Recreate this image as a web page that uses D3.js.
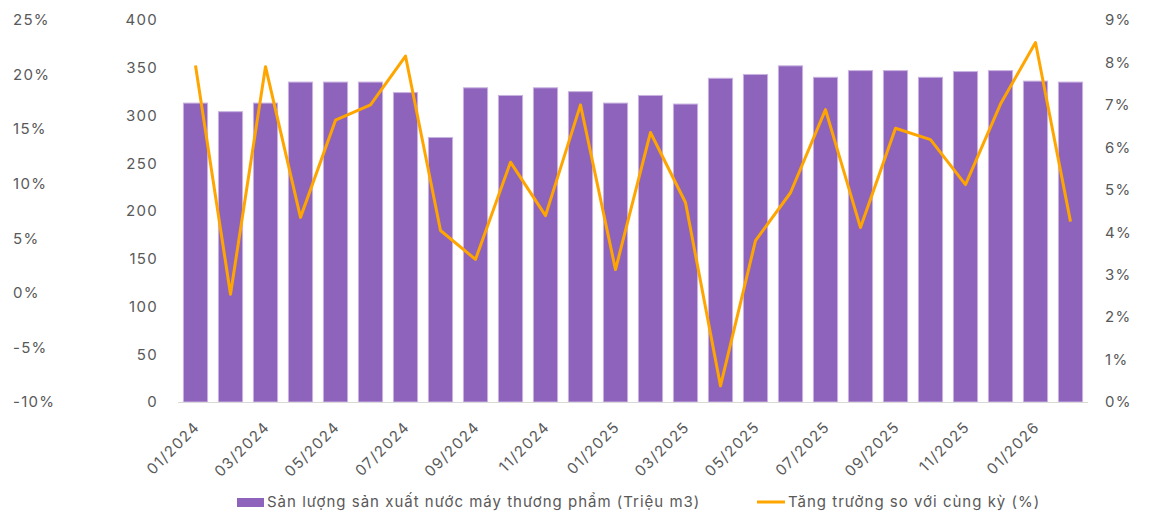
<!DOCTYPE html>
<html>
<head>
<meta charset="utf-8">
<script src="https://cdn.jsdelivr.net/npm/d3@7"></script>
<style>
  body { margin: 0; background: #fff; }
  text { font-family: "Inter", "Noto Sans", sans-serif; fill: #595959; }
</style>
</head>
<body>
<div id="chart"></div>
<script>
// months shown on the x axis
var months = ["01/2024","02/2024","03/2024","04/2024","05/2024","06/2024","07/2024","08/2024","09/2024","10/2024","11/2024","12/2024",
  "01/2025","02/2025","03/2025","04/2025","05/2025","06/2025","07/2025","08/2025","09/2025","10/2025","11/2025","12/2025",
  "01/2026","02/2026"];

// production (million m3)
var production = [313, 304, 313, 335, 335, 335, 324, 277, 329, 321, 329, 325,
  313, 321, 312, 339, 343, 352, 340, 347, 347, 340, 346, 347, 336, 335];

// yoy growth (%)
var growth = [7.93, 2.54, 7.9, 4.35, 6.64, 7.0, 8.15, 4.04, 3.36, 5.65, 4.39, 7.0,
  3.12, 6.35, 4.7, 0.38, 3.8, 4.93, 6.89, 4.11, 6.45, 6.18, 5.12, 7.02, 8.47, 4.25];

var leftTicks = [0, 50, 100, 150, 200, 250, 300, 350, 400];
var farLeftTicks = [-10, -5, 0, 5, 10, 15, 20, 25];
var rightTicks = [0, 1, 2, 3, 4, 5, 6, 7, 8, 9];

var barName = "Sản lượng sản xuất nước máy thương phẩm (Triệu m3)";
var lineName = "Tăng trưởng so với cùng kỳ (%)";

var W = 1167, H = 514;
var top0 = 20, bottom0 = 402, left0 = 178, right0 = 1088;

var svg = d3.select("#chart").append("svg")
  .attr("width", W)
  .attr("height", H);

var x = d3.scaleBand()
  .domain(months)
  .range([left0, right0])
  .paddingInner(0.31)
  .paddingOuter(0.155);

var y = d3.scaleLinear().domain([0, 400]).range([bottom0, top0]);
var yPct = d3.scaleLinear().domain([0, 9]).range([bottom0, top0]);
var yFar = d3.scaleLinear().domain([-10, 25]).range([bottom0, top0]);

function styleTicks(g) {
  g.select(".domain").remove();
  g.selectAll("text")
    .attr("x", 0)
    .style("font-size", "15px")
    .style("font-family", null)
    .style("letter-spacing", "1.3px");
}

// far left axis (not used by any series)
svg.append("g")
  .attr("transform", "translate(13,0)")
  .call(d3.axisRight(yFar).tickValues(farLeftTicks).tickSize(0).tickFormat(function(d) { return d + "%"; }))
  .call(styleTicks);

svg.append("g")
  .attr("transform", "translate(158,0)")
  .call(d3.axisLeft(y).tickValues(leftTicks).tickSize(0))
  .call(styleTicks);

svg.append("g")
  .attr("transform", "translate(1105,0)")
  .call(d3.axisRight(yPct).tickValues(rightTicks).tickSize(0).tickFormat(function(d) { return d + "%"; }))
  .call(styleTicks);

// bars
svg.selectAll(".bar")
  .data(production)
  .enter()
  .append("rect")
  .attr("class", "bar")
  .attr("x", function(d, i) { return x(months[i]); })
  .attr("y", function(d) { return y(d); })
  .attr("width", x.bandwidth())
  .attr("height", function(d) { return bottom0 - y(d); })
  .style("fill", "#8e63bb")
  .style("stroke", "#c9b3e0")
  .style("stroke-width", 1);

// baseline
svg.append("line")
  .attr("x1", left0).attr("x2", right0)
  .attr("y1", bottom0 + 0.5).attr("y2", bottom0 + 0.5)
  .style("stroke", "#d9d9d9")
  .style("stroke-width", 1);

// growth line
var line = d3.line()
  .x(function(d, i) { return x(months[i]) + x.bandwidth() / 2; })
  .y(function(d) { return yPct(d); });

svg.append("path")
  .datum(growth)
  .attr("d", line)
  .style("fill", "none")
  .style("stroke", "#ffa500")
  .style("stroke-width", 3)
  .style("stroke-linejoin", "round");

// x axis labels, every other month
var gX = svg.append("g")
  .attr("transform", "translate(0," + bottom0 + ")")
  .call(d3.axisBottom(x).tickValues(months.filter(function(d, i) { return i % 2 == 0; })).tickSize(0));
gX.select(".domain").remove();
gX.selectAll("text")
  .style("font-size", "15px")
  .style("font-family", null)
  .style("letter-spacing", "1.3px")
  .style("text-anchor", "end")
  .attr("x", 0)
  .attr("y", 0)
  .attr("dy", 0)
  .attr("transform", "translate(5,26) rotate(-45)");

// legend
var legend = svg.append("g");
legend.append("rect")
  .attr("x", 237).attr("y", 498)
  .attr("width", 27).attr("height", 9)
  .style("fill", "#8e63bb");
legend.append("text")
  .attr("x", 267).attr("y", 507)
  .style("font-size", "15px")
  .style("letter-spacing", "1px")
  .text(barName);
legend.append("line")
  .attr("x1", 757).attr("x2", 785)
  .attr("y1", 502).attr("y2", 502)
  .style("stroke", "#ffa500")
  .style("stroke-width", 3);
legend.append("text")
  .attr("x", 788).attr("y", 507)
  .style("font-size", "15px")
  .style("letter-spacing", "1px")
  .text(lineName);
</script>
</body>
</html>
